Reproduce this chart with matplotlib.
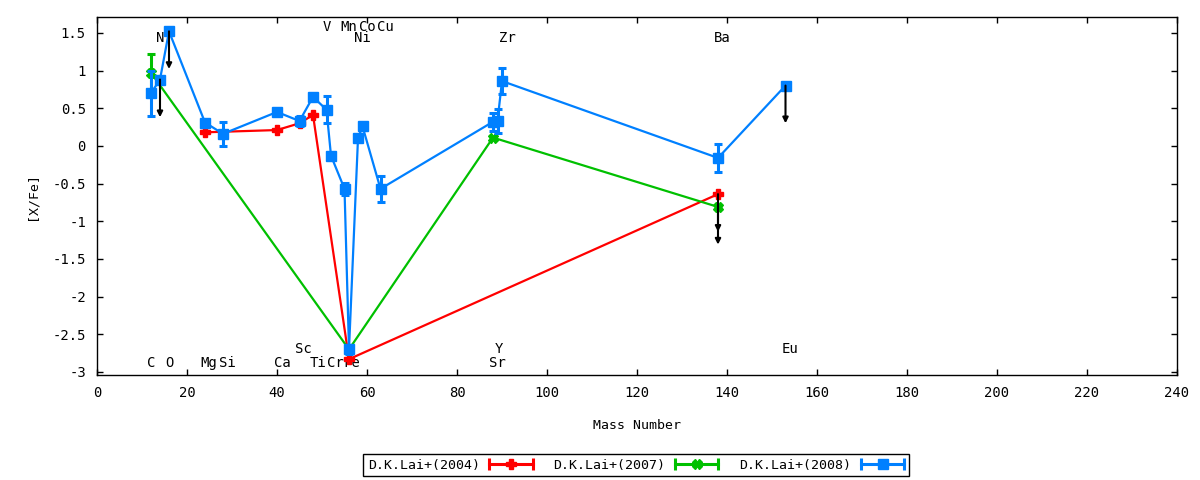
import numpy as np
import matplotlib
matplotlib.use('Agg')
import matplotlib.pyplot as plt
from matplotlib.lines import Line2D

plt.rcParams['font.family'] = ['DejaVu Sans Mono', 'DejaVu Sans']
plt.rcParams['font.size'] = 9.5

# D.K.Lai+(2004)
mass_04 = [24, 40, 45, 48, 56, 138]
xfe_04 = [0.18, 0.21, 0.30, 0.41, -2.83, -0.64]
lim_04 = [False, False, False, False, False, True]

# D.K.Lai+(2007)
mass_07 = [12, 56, 88, 138]
xfe_07 = [0.97, -2.70, 0.11, -0.81]
err_07 = [0.25, 0.0, 0.0, 0.0]
lim_07 = [False, False, False, True]

# D.K.Lai+(2008)
mass_08 = [12, 14, 16, 24, 28, 40, 45, 48, 51, 52, 55, 56, 58, 59, 63, 88, 89, 90, 138, 153]
xfe_08 = [0.70, 0.88, 1.52, 0.31, 0.16, 0.45, 0.33, 0.65, 0.48, -0.13, -0.57, -2.70,
          0.10, 0.26, -0.57, 0.32, 0.33, 0.86, -0.16, 0.80]
err_08 = [0.30, 0.0, 0.0, 0.03, 0.16, 0.02, 0.06, 0.04, 0.18, 0.02, 0.08, 0.06,
          0.04, 0.05, 0.17, 0.12, 0.16, 0.17, 0.18, 0.0]
lim_08 = [False, True, True] + [False] * 16 + [True]

# element labels: name, mass position, y position
elem_names = ['C', 'N', 'O', 'Mg', 'Si', 'Ca', 'Sc', 'Ti', 'V', 'Cr', 'Mn', 'Fe', 'Ni', 'Co',
              'Cu', 'Sr', 'Y', 'Zr', 'Ba', 'Eu']
elem_x = [12.0, 14.0, 16.0, 24.9, 28.9, 41.1, 45.8, 49.1, 51.1, 52.9, 56.0, 56.7, 58.9, 60.0,
          64.0, 88.9, 89.3, 91.1, 138.9, 154.0]
elem_y = [-2.88, 1.43, -2.88, -2.88, -2.88, -2.88, -2.69, -2.88, 1.58, -2.88, 1.58, -2.88,
          1.43, 1.58, 1.58, -2.88, -2.69, 1.43, 1.43, -2.69]

xticks = list(range(0, 241, 20))
yticks = [-3, -2.5, -2, -1.5, -1, -0.5, 0, 0.5, 1, 1.5]
ytick_labels = ['-3', '-2.5', '-2', '-1.5', '-1', '-0.5', '0', '0.5', '1', '1.5']

red = '#ff0000'
green = '#00c000'
blue = '#0080ff'


class ErrKey:
    def __init__(self, color, marker, ms):
        self.color = color
        self.marker = marker
        self.ms = ms


class ErrKeyHandler:
    # gnuplot style key: horizontal line with caps and marker in middle
    def legend_artist(self, legend, orig_handle, fontsize, handlebox):
        x0, y0 = handlebox.xdescent, handlebox.ydescent
        w, h = handlebox.width, handlebox.height
        yc = y0 + h / 2
        t = handlebox.get_transform()
        k = orig_handle
        line = Line2D([x0, x0 + w], [yc, yc], color=k.color, lw=2.2, marker='|',
                      ms=8, mew=2.2, transform=t)
        mark = Line2D([x0 + w / 2], [yc], color=k.color, marker=k.marker, ms=k.ms,
                      ls='none', transform=t)
        handlebox.add_artist(line)
        handlebox.add_artist(mark)
        return line


fig = plt.figure(figsize=(12, 4.8), dpi=100)
ax = fig.add_axes([97 / 1200, 1 - 375 / 480, 1080 / 1200, 358 / 480])

ax.errorbar(mass_04, xfe_04, color=red, lw=1.6, marker='P', ms=7, zorder=3)
ax.errorbar(mass_07, xfe_07, yerr=err_07, color=green, lw=1.6, marker='X', ms=7,
            capsize=3, capthick=2.2, elinewidth=2.2, zorder=3)
ax.errorbar(mass_08, xfe_08, yerr=err_08, color=blue, lw=1.6, marker='s', ms=7,
            capsize=3, capthick=2.2, elinewidth=2.2, zorder=4)

# upper limits
for mass, xfe, lim in [(mass_04, xfe_04, lim_04), (mass_07, xfe_07, lim_07),
                       (mass_08, xfe_08, lim_08)]:
    for m, v, l in zip(mass, xfe, lim):
        if l:
            ax.annotate('', xy=(m, v - 0.5), xytext=(m, v),
                        arrowprops=dict(arrowstyle='-|>', color='black', lw=1.5,
                                        mutation_scale=8, shrinkA=0, shrinkB=0),
                        zorder=5)

for name, x, y in zip(elem_names, elem_x, elem_y):
    ax.text(x, y, name, ha='center', va='center', fontsize=10)

ax.set_xlim(0, 240)
ax.set_ylim(-3.04, 1.71)
ax.set_xticks(xticks)
ax.set_yticks(yticks)
ax.set_yticklabels(ytick_labels)
ax.tick_params(direction='in', top=True, right=True, length=4, width=1, pad=8,
               labelsize=10)
for s in ax.spines.values():
    s.set_linewidth(1)

ax.set_xlabel('Mass Number', fontsize=9.5)
ax.xaxis.set_label_coords(0.5, -0.122)
ax.set_ylabel('[X/Fe]', fontsize=9.5)
ax.yaxis.set_label_coords(-0.054, 0.5)

keys = [ErrKey(red, 'P', 7), ErrKey(green, 'X', 7), ErrKey(blue, 's', 7)]
leg = fig.legend(keys, ['D.K.Lai+(2004)', 'D.K.Lai+(2007)', 'D.K.Lai+(2008)'],
                 handler_map={ErrKey: ErrKeyHandler()}, loc='center',
                 bbox_to_anchor=(636 / 1200, 1 - 465 / 480), ncol=3, markerfirst=False,
                 fancybox=False, edgecolor='black', framealpha=1, handlelength=3.3,
                 handletextpad=0.7, columnspacing=1.6, borderpad=0.35, fontsize=9.5)
leg.get_frame().set_linewidth(1)

fig.savefig('out.png', dpi=100)
